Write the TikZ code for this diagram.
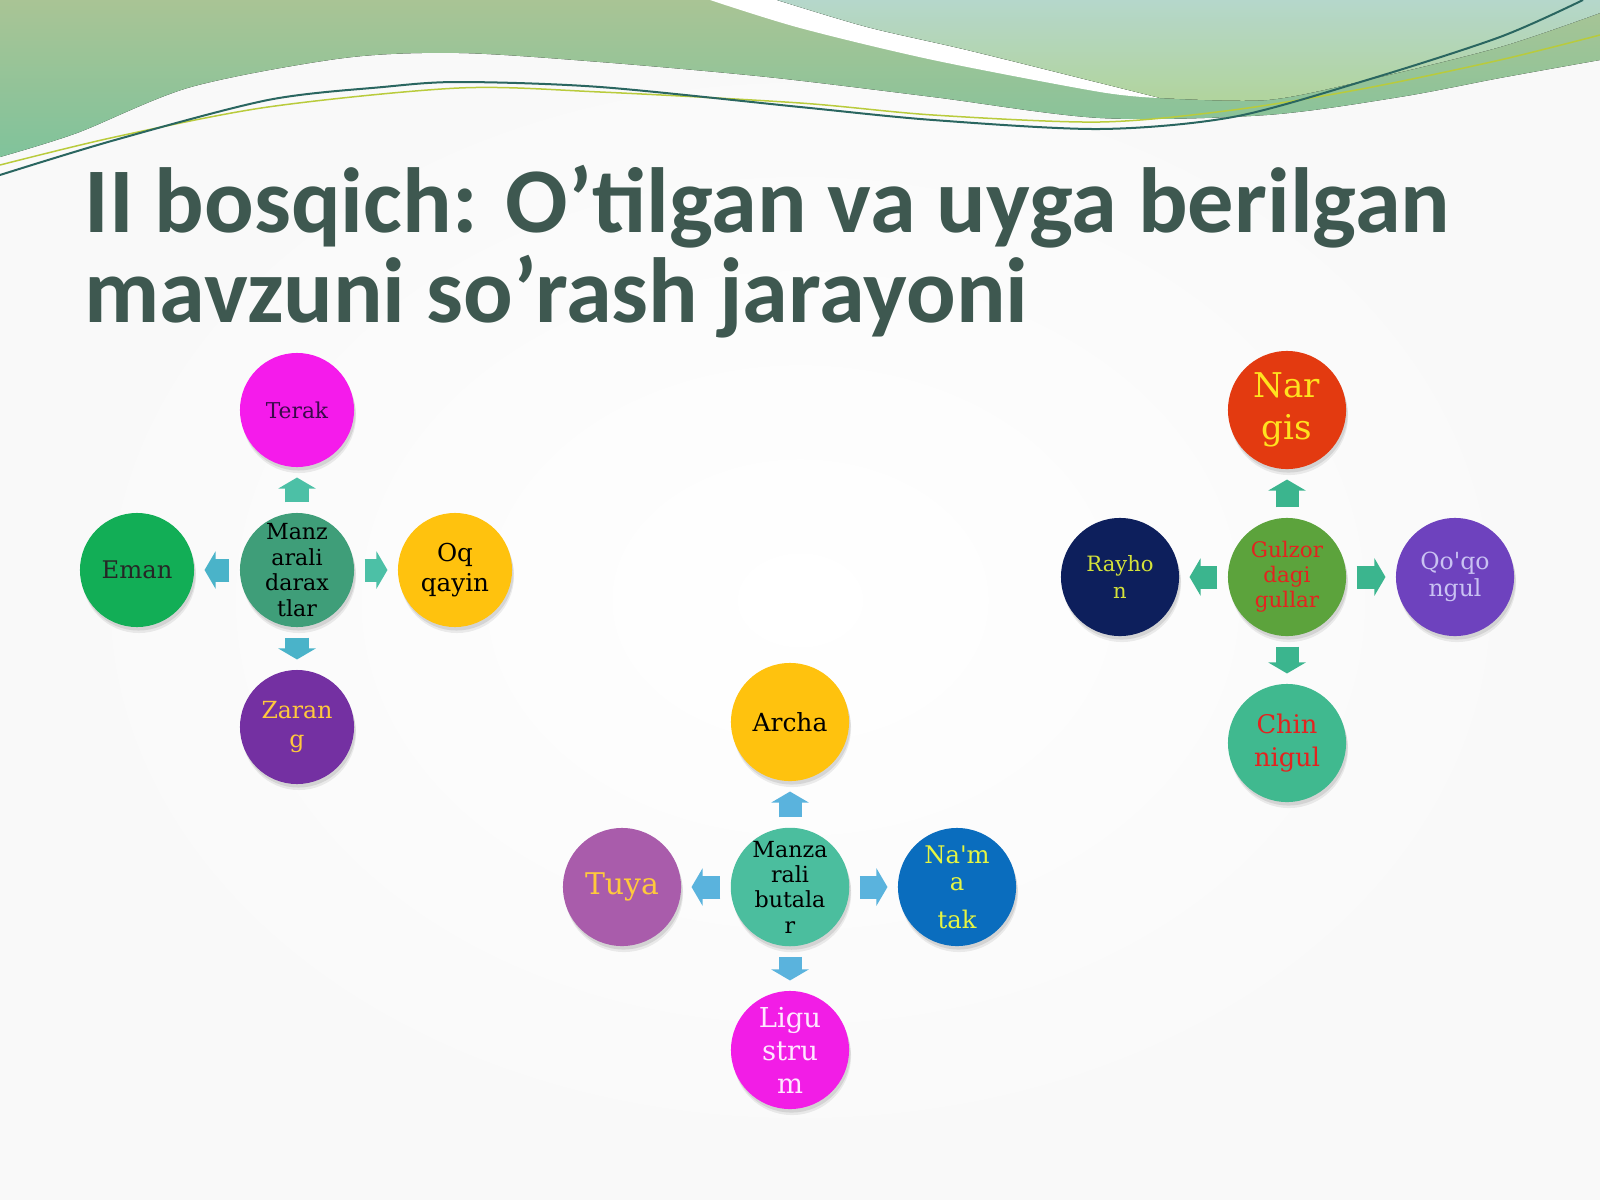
\documentclass[tikz,border=0pt]{standalone}
\usepackage{fontspec}
\setmainfont{DejaVu Serif}[Ligatures=TeXOff]
\newfontfamily\titlefont{Carlito}
\usetikzlibrary{arrows.meta,shadows}
\definecolor{titlegray}{HTML}{3E5850}
\definecolor{waveA}{HTML}{A9C495}
\definecolor{waveAlow}{HTML}{80C39B}
\definecolor{waveB}{HTML}{B5D7CB}
\definecolor{waveBlow}{HTML}{B1D49C}
\definecolor{lineteal}{HTML}{2A6660}
\definecolor{lineyel}{HTML}{B9CB3C}
% circle fills
\definecolor{cDar}{HTML}{3F9E79}
\definecolor{cTerak}{HTML}{F51BEB}
\definecolor{cEman}{HTML}{12AE56}
\definecolor{cOq}{HTML}{FFC20E}
\definecolor{cZarang}{HTML}{7430A2}
\definecolor{cButa}{HTML}{4BBE9E}
\definecolor{cTuya}{HTML}{A95CAB}
\definecolor{cNamatak}{HTML}{0A6DBE}
\definecolor{cLigus}{HTML}{F21DE6}
\definecolor{cGul}{HTML}{5CA33C}
\definecolor{cNargis}{HTML}{E33A10}
\definecolor{cRayhon}{HTML}{0D1F5C}
\definecolor{cQoqon}{HTML}{6E42BE}
\definecolor{cChinni}{HTML}{40B98F}
% text colours
\definecolor{tTerak}{HTML}{3A0A4A}
\definecolor{tGold}{HTML}{FFC93C}
\definecolor{tNamatak}{HTML}{E6F542}
\definecolor{tLigus}{HTML}{FFE6FF}
\definecolor{tNargis}{HTML}{FFE21F}
\definecolor{tRed}{HTML}{E3231F}
\definecolor{tRayhon}{HTML}{D4E23A}
\definecolor{tQoqon}{HTML}{C9C2F2}
% arrow colours
\definecolor{arrA}{HTML}{4CC0A6}
\definecolor{arrAb}{HTML}{4AB3C9}
\definecolor{arrB}{HTML}{5AB3DD}
\definecolor{arrC}{HTML}{3BB58E}

\begin{document}
\begin{tikzpicture}[
          x=0.01cm, y=-0.01cm,
          title/.style={font=\titlefont\bfseries\fontsize{26.3}{26}\selectfont, text=titlegray, inner sep=0pt, anchor=base west},
          circ/.style={circle, minimum size=1.18cm, inner sep=0pt, outer sep=0pt, align=center,
                       drop shadow={shadow xshift=0.02cm, shadow yshift=-0.06cm, opacity=0.07, fill=black},
                       drop shadow={shadow xshift=0.015cm, shadow yshift=-0.035cm, opacity=0.09, fill=black}},
          circs/.style={circ, minimum size=1.14cm},
          blk/.style={line width=0.23cm, -{Triangle[width=0.37cm,length=0.11cm]}, shorten <=0.105cm, shorten >=0.105cm}
      ]
        \useasboundingbox (0,0) rectangle (1600,1200);
        \shade[inner color=white, outer color=black!2.5] (0,0) rectangle (1600,1200);
        % top waves
        \fill[top color=waveA, bottom color=waveAlow] (0,0) -- (1600,0) -- (1600,60)
          -- plot[smooth] coordinates {(1600,60) (1500,78) (1400,97) (1267,115) (1100,118) (933,97) (767,77) (600,62) (459,53) (344,58) (191,87) (77,133) (0,157)} -- cycle;
        \fill[white] plot[smooth] coordinates {(710,0) (800,28) (933,60) (1100,92) (1160,98)}
          -- plot[smooth] coordinates {(1160,98) (1100,83) (967,50) (867,27) (777,0)} -- cycle;
        \fill[top color=waveB, bottom color=waveBlow] plot[smooth] coordinates {(777,0) (867,27) (967,50) (1100,83) (1160,98)}
          -- plot[smooth] coordinates {(1160,98) (1267,100) (1367,80) (1500,47) (1600,13)} -- (1600,0) -- cycle;
        \draw[lineyel, line width=0.015cm] plot[smooth] coordinates {(0,165) (115,137) (268,107) (459,88) (600,92) (800,103) (933,115) (1100,122) (1233,110) (1367,88) (1500,60) (1600,35)};
        \draw[lineteal, line width=0.02cm] plot[smooth] coordinates {(0,175) (115,140) (268,100) (383,87) (459,82) (600,87) (800,107) (933,120) (1100,129) (1233,117) (1367,80) (1500,37) (1583,0)};
        % title
        \node[title] (t1) at (84,232) {II bosqich: O’tilgan va uyga berilgan};
        \node[title] (t2) at (84,322) {mavzuni so’rash jarayoni};
        % trees
        \node[circs, fill=cDar, font=\fontsize{6.3}{7.35}\selectfont] (dar) at (297,570) {Manz\\arali\\darax\\tlar};
        \node[circs, fill=cTerak, text=tTerak, font=\fontsize{6.2}{7.4}\selectfont] (terak) at (297,410) {Terak};
        \node[circs, fill=cEman, text=black!85, font=\fontsize{6.9}{8}\selectfont] (eman) at (137,570) {Eman};
        \node[circs, fill=cOq, font=\fontsize{7}{8.5}\selectfont] (oq) at (455,570) {Oq\\qayin};
        \node[circs, fill=cZarang, text=tGold, font=\fontsize{6.7}{8.5}\selectfont] (zarang) at (297,727) {Zaran\\g};
        \draw[blk, arrA] (dar) -- (terak);
        \draw[blk, arrA] (dar) -- (oq);
        \draw[blk, arrAb] (dar) -- (eman);
        \draw[blk, arrAb] (dar) -- (zarang);
        % shrubs
        \node[circ, fill=cButa, font=\fontsize{6.3}{7.2}\selectfont] (buta) at (790,887) {Manza\\rali\\butala\\r};
        \node[circ, fill=cOq, font=\fontsize{7.1}{8.5}\selectfont] (archa) at (790,722) {Archa};
        \node[circ, fill=cTuya, text=tGold, font=\fontsize{8.5}{10}\selectfont] (tuya) at (622,887) {Tuya};
        \node[circ, fill=cNamatak, text=tNamatak, font=\fontsize{6.9}{7.7}\selectfont] (namatak) at (957,887) {Na'm\\a\\[0.11cm]tak};
        \node[circ, fill=cLigus, text=tLigus, font=\fontsize{7.8}{9.4}\selectfont] (ligus) at (790,1050) {Ligu\\stru\\m};
        \draw[blk, arrB] (buta) -- (archa);
        \draw[blk, arrB] (buta) -- (namatak);
        \draw[blk, arrB] (buta) -- (tuya);
        \draw[blk, arrB] (buta) -- (ligus);
        % flowers
        \node[circ, fill=cGul, text=tRed, font=\fontsize{6.1}{7.1}\selectfont] (gul) at (1287,577) {Gulzor\\dagi\\gullar};
        \node[circ, fill=cNargis, text=tNargis, font=\fontsize{9.7}{12}\selectfont] (nargis) at (1287,410) {Nar\\gis};
        \node[circ, fill=cRayhon, text=tRayhon, font=\fontsize{6}{7.7}\selectfont] (rayhon) at (1120,577) {Rayho\\n};
        \node[circ, fill=cQoqon, text=tQoqon, font=\fontsize{6.7}{7.7}\selectfont] (qoqon) at (1455,577) {Qo'qo\\ngul};
        \node[circ, fill=cChinni, text=tRed, font=\fontsize{7.3}{9.4}\selectfont] (chinni) at (1287,743) {Chin\\nigul};
        \draw[blk, arrC] (gul) -- (nargis);
        \draw[blk, arrC] (gul) -- (qoqon);
        \draw[blk, arrC] (gul) -- (rayhon);
        \draw[blk, arrC] (gul) -- (chinni);
      \end{tikzpicture}
\end{document}
